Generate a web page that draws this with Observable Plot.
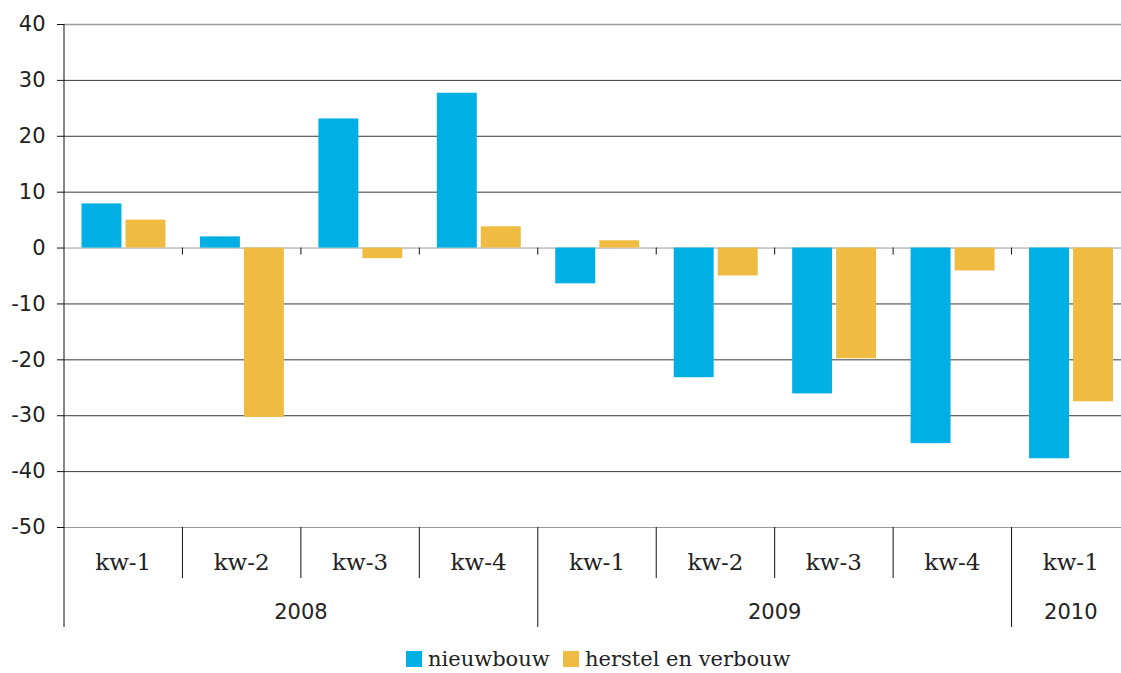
<!DOCTYPE html>
<html>
<head>
<meta charset="utf-8">
<script src="https://cdn.jsdelivr.net/npm/d3@7"></script>
<script src="https://cdn.jsdelivr.net/npm/@observablehq/plot@0.6"></script>
<style>
  html, body { margin: 0; padding: 0; background: #fff; overflow: hidden; }
  #legend { position: relative; height: 28px; font-family: "DejaVu Serif", serif; font-size: 21px; color: #222; }
  #legend .item { position: absolute; top: 0; display: flex; align-items: center; height: 28px; }
  #legend .sw { width: 16px; height: 16px; margin-right: 6px; }
</style>
</head>
<body>
<div id="chart"></div>
<div id="legend"></div>
<script>
const years = ["2008", "2008", "2008", "2008", "2009", "2009", "2009", "2009", "2010"];
const quarters = ["kw-1", "kw-2", "kw-3", "kw-4", "kw-1", "kw-2", "kw-3", "kw-4", "kw-1"];
const nieuwbouw = [7.9, 2.0, 23.1, 27.7, -6.4, -23.2, -26.1, -35.0, -37.7];
const herstel = [5.0, -30.3, -1.9, 3.8, 1.3, -5.0, -19.8, -4.1, -27.5];
const yTicks = [40, 30, 20, 10, 0, -10, -20, -30, -40, -50];
const seriesNames = ["nieuwbouw", "herstel en verbouw"];
const colors = ["#00b0e4", "#f0bb41"];

const keys = quarters.map((q, i) => years[i] + " " + q);
const rowsN = keys.map((k, i) => ({key: k, value: nieuwbouw[i]}));
const rowsH = keys.map((k, i) => ({key: k, value: herstel[i]}));

const sans = "DejaVu Sans, sans-serif";
const serif = "DejaVu Serif, serif";

function hierarchy(index, scales, values, dims) {
  const x = scales.x;
  const bw = x.bandwidth ? x.bandwidth() : scales.scales.x.bandwidth;
  const yb = dims.height - dims.marginBottom;
  const y0 = scales.y(0);
  const g = d3.create("svg:g");
  g.append("line").attr("x1", dims.marginLeft).attr("x2", dims.marginLeft)
    .attr("y1", dims.marginTop).attr("y2", yb + 100).attr("stroke", "#111");
  keys.forEach((k, i) => {
    const x0 = x(k);
    if (i > 0) {
      const yearStart = years[i] !== years[i - 1];
      g.append("line").attr("x1", x0).attr("x2", x0)
        .attr("y1", yb).attr("y2", yb + (yearStart ? 100 : 51)).attr("stroke", "#111");
      g.append("line").attr("x1", x0).attr("x2", x0)
        .attr("y1", y0).attr("y2", y0 + 7).attr("stroke", "#111");
    }
    g.append("text").attr("x", x0 + bw / 2).attr("y", yb + 43)
      .attr("text-anchor", "middle").attr("font-family", serif).attr("font-size", 23)
      .attr("fill", "#222").text(quarters[i]);
  });
  const uniq = Array.from(new Set(years));
  uniq.forEach(yr => {
    const ks = keys.filter((k, i) => years[i] === yr);
    const a = x(ks[0]), b = x(ks[ks.length - 1]) + bw;
    g.append("text").attr("x", (a + b) / 2).attr("y", yb + 92)
      .attr("text-anchor", "middle").attr("font-family", sans).attr("font-size", 21)
      .attr("fill", "#222").text(yr);
  });
  return g.node();
}

const plot = Plot.plot({
  width: 1121,
  height: 645,
  marginLeft: 64,
  marginRight: -9,
  marginTop: 24,
  marginBottom: 118,
  style: {background: "transparent", overflow: "visible"},
  x: {domain: keys, padding: 0, round: false, axis: null},
  y: {domain: [-50, 40], axis: null, label: null},
  marks: [
    Plot.ruleY(yTicks, {stroke: d => (d === 40 || d === 0 || d === -50) ? "#9a9a9a" : "#3a3a3a", strokeWidth: d => d === 40 ? 1.5 : 1}),
    Plot.barY(rowsN, {x: "key", y: "value", fill: colors[0], insetLeft: 17.5, insetRight: 61}),
    Plot.barY(rowsH, {x: "key", y: "value", fill: colors[1], insetLeft: 61.5, insetRight: 17}),
    Plot.axisY({ticks: yTicks, tickSize: 7, tickPadding: 12, tickFormat: d => String(d), label: null,
      fontSize: 21, fontFamily: sans, color: "#222", stroke: "#111"}),
    hierarchy
  ]
});
document.getElementById("chart").appendChild(plot);

const legend = document.getElementById("legend");
const lefts = [406, 563];
seriesNames.forEach((name, i) => {
  const it = document.createElement("div");
  it.className = "item";
  it.style.left = lefts[i] + "px";
  const sw = document.createElement("div");
  sw.className = "sw";
  sw.style.background = colors[i];
  const t = document.createElement("span");
  t.textContent = name;
  it.appendChild(sw);
  it.appendChild(t);
  legend.appendChild(it);
});
</script>
</body>
</html>
